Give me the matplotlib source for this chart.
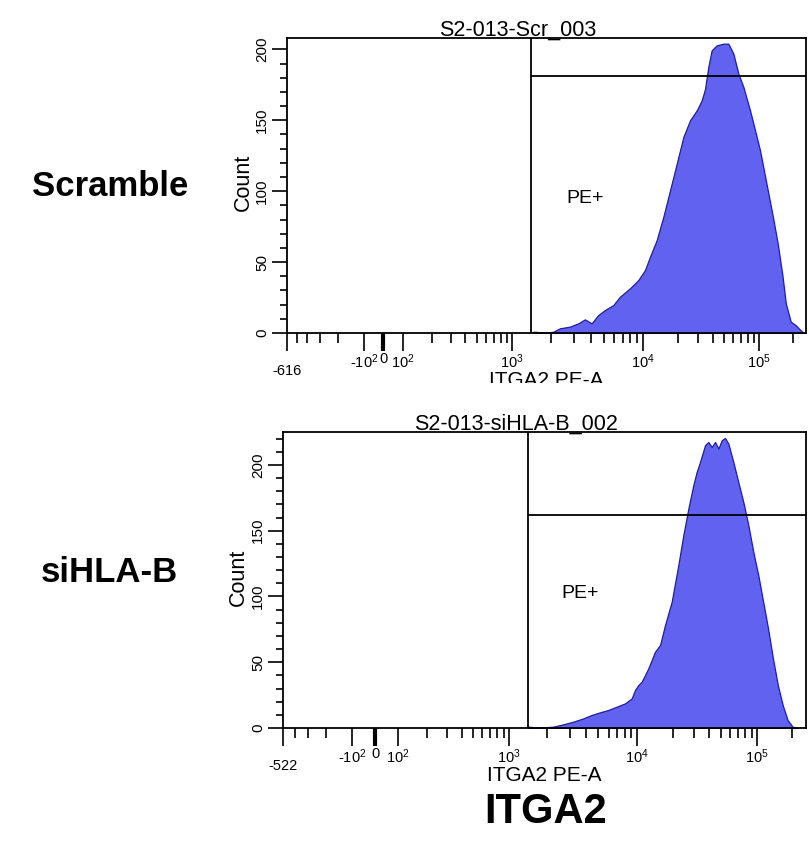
"""
ITGA2 PE-A flow cytometry histograms, scramble vs siHLA-B knockdown,
drawn on a biexponential-looking x axis with the PE+ gate.
"""

import numpy as np
import matplotlib
matplotlib.use('Agg')
import matplotlib.pyplot as plt
from matplotlib.patches import Rectangle

plt.rcParams['font.family'] = ['Liberation Sans', 'DejaVu Sans']
plt.rcParams['mathtext.fontset'] = 'custom'
plt.rcParams['mathtext.rm'] = 'Liberation Sans'
plt.rcParams['mathtext.it'] = 'Liberation Sans:italic'
plt.rcParams['mathtext.bf'] = 'Liberation Sans:bold'

# histogram traces (intensity, count)
scr_x = [1456, 1841, 2066, 2323, 2773, 3209, 3606, 4055, 4560, 5128, 5934,
         6674, 7954, 9205, 10400, 11490, 13120, 14970, 17110, 19540, 22290,
         25450, 29060, 32060, 34230, 36560, 39070, 43150, 49220, 54400,
         60090, 66370, 73310, 83620, 92400, 102000, 116500, 132900, 146800,
         162200, 173300, 191500, 211500, 233500, 249400]
scr_count = [0.9, 0.2, 0.9, 3.3, 4.5, 6.8, 9.6, 6.8, 12.7, 16.2, 19.7,
             25.6, 31.5, 37.3, 44.4, 53.8, 65.5, 81.9, 100.7, 119.5, 138.3,
             150, 157, 164, 172, 187.6, 199.3, 202.8, 204, 204,
             197, 182.9, 173.5, 157, 143, 128.9, 105.4, 82, 63,
             39.7, 20.9, 8, 5.6, 2.1, 0]

sih_x = [1416, 1746, 2220, 2656, 3178, 3802, 4424, 5140, 5970, 6937, 8058,
         9091, 9647, 10250, 10940, 12420, 14130, 15550, 17110, 19450, 22090,
         24320, 26790, 29450, 31410, 33500, 36880, 39280, 41970, 44670,
         47640, 50820, 54090, 57680, 63490, 69820, 76910, 84700, 93110,
         102500, 112900, 124200, 136800, 150600, 165600, 182400, 200900,
         221000]
sih_count = [1.0, 0.3, 1.0, 2.8, 4.8, 7.3, 9.9, 11.9, 13.7, 16.2, 18.7,
             22.5, 28.9, 32.6, 35.2, 45.3, 58, 63, 78.2, 95.9, 123.8,
             146.5, 166.8, 184.5, 194.6, 202.2, 214.9, 217.4, 213.6, 217.4,
             212.4, 218.7, 220.5, 216.2, 202.2, 187, 171.8, 154.1, 133.9,
             116.2, 95.9, 75.7, 52.9, 32.6, 17.5, 6.1, 1.0,
             0]

titles = ['S2-013-Scr_003', 'S2-013-siHLA-B_002']
conditions = ['Scramble', 'siHLA-B']
x_min = [-616, -522]
x_max = 262144
y_max = [208, 225]
gate_x = [1410, 1410]
gate_y = [181, 162]
gate_name = 'PE+'
gate_label_at = [(3600, 95), (3600, 102)]

# display calibration of the biex axis (value -> device units)
scr_cal_vals = [-616, -100, 0, 100, 1e3, 1e4, 1e5, 262144]
scr_cal_pos = [287, 364, 383, 403, 512, 643, 759, 806]
sih_cal_vals = [-522, -100, 0, 100, 1e3, 1e4, 1e5, 262144]
sih_cal_pos = [283, 352, 375, 398, 509, 637, 757, 806]

major_vals = [-100, 0, 100, 1e3, 1e4, 1e5]
major_labels = [r'-$10^2$', '0', r'$10^2$', r'$10^3$', r'$10^4$', r'$10^5$']
minor_vals = ([-500, -400, -300, -200] + list(range(200, 1000, 100))
              + list(range(2000, 10000, 1000))
              + list(range(20000, 100000, 10000)) + [200000])


def biex_scale(vals, pos):
    u = np.arcsinh(np.asarray(vals, float) / 100.0)
    p = np.asarray(pos, float)
    lo = (p[1] - p[0]) / (u[1] - u[0])
    hi = (p[-1] - p[-2]) / (u[-1] - u[-2])

    def forward(x):
        ux = np.arcsinh(np.asarray(x, float) / 100.0)
        out = np.interp(ux, u, p)
        out = np.where(ux < u[0], p[0] + (ux - u[0]) * lo, out)
        out = np.where(ux > u[-1], p[-1] + (ux - u[-1]) * hi, out)
        return out

    def inverse(y):
        y = np.asarray(y, float)
        uy = np.interp(y, p, u)
        uy = np.where(y < p[0], u[0] + (y - p[0]) / lo, uy)
        uy = np.where(y > p[-1], u[-1] + (y - p[-1]) / hi, uy)
        return 100.0 * np.sinh(uy)

    return forward, inverse


def draw_panel(ax, xs, counts, title, xmin, ymax, gx, gy, lab_at,
               cal_vals, cal_pos):
    ax.set_xscale('function', functions=biex_scale(cal_vals, cal_pos))
    ax.set_xlim(xmin, x_max)
    ax.set_ylim(0, ymax)

    ax.fill_between(xs, counts, color='#6262f0', edgecolor='#1c1ca8',
                    linewidth=0.9, zorder=2)

    ax.axvline(gx, color='black', lw=1.3, zorder=3)
    ax.hlines(gy, gx, x_max, color='black', lw=1.3, zorder=3)
    ax.text(lab_at[0], lab_at[1], gate_name, fontsize=14, ha='center',
            va='center')

    for s in ax.spines.values():
        s.set_linewidth(1.3)
        s.set_color('black')

    ax.set_xticks([xmin] + major_vals)
    ax.set_xticklabels([''] + major_labels)
    ax.set_xticks([v for v in minor_vals if v > xmin + 60], minor=True)
    ax.tick_params(axis='x', which='major', length=13, width=1.2, pad=1,
                   labelsize=10.5)
    ax.tick_params(axis='x', which='minor', length=7, width=1.2)
    zero_tick = ax.xaxis.get_major_ticks()[2]
    zero_tick.tick1line.set_markeredgewidth(3)

    ax.annotate(str(xmin), xy=(xmin, 0), xycoords=('data', 'axes fraction'),
                xytext=(0, -27), textcoords='offset points', ha='center',
                va='center', fontsize=10.5)

    ax.set_yticks([0, 50, 100, 150, 200])
    ax.set_yticks(np.arange(0, ymax, 10), minor=True)
    ax.tick_params(axis='y', which='major', length=11, width=1.2, pad=2,
                   labelsize=11, labelrotation=90)
    ax.tick_params(axis='y', which='minor', length=5, width=1.2)
    for lab in ax.get_yticklabels():
        lab.set_va('center')

    ax.text(-0.085, 0.51, 'Count', transform=ax.transAxes, rotation=90,
            ha='center', va='center', fontsize=15.5)
    ax.set_xlabel('ITGA2 PE-A', fontsize=15)
    ax.xaxis.set_label_coords(0.5, -0.128)
    ax.xaxis.label.set_va('top')

    ax.annotate(title, xy=(0.445, 1.0), xycoords='axes fraction',
                xytext=(0, 2), textcoords='offset points', ha='center',
                va='baseline', fontsize=15.5)


fig = plt.figure(figsize=(8.09, 8.5), dpi=100)
W, H = 809.0, 850.0

ax_top = fig.add_axes([287 / W, 1 - 333 / H, 519 / W, 295 / H])
ax_bot = fig.add_axes([283 / W, 1 - 728 / H, 523 / W, 296 / H])

draw_panel(ax_top, scr_x, scr_count, titles[0], x_min[0], y_max[0],
           gate_x[0], gate_y[0], gate_label_at[0], scr_cal_vals, scr_cal_pos)
draw_panel(ax_bot, sih_x, sih_count, titles[1], x_min[1], y_max[1],
           gate_x[1], gate_y[1], gate_label_at[1], sih_cal_vals, sih_cal_pos)

# bottom of the upper axis label is cut off by the lower plot
fig.add_artist(Rectangle((440 / W, 1 - 400 / H), 220 / W, 17 / H,
                         transform=fig.transFigure, facecolor='white',
                         edgecolor='none', zorder=10))

fig.text(110 / W, 1 - 187 / H, conditions[0], fontsize=25,
         fontweight='bold', ha='center', va='center')
fig.text(109 / W, 1 - 573 / H, conditions[1], fontsize=25,
         fontweight='bold', ha='center', va='center')
fig.text(546 / W, 1 - 812 / H, 'ITGA2', fontsize=30, fontweight='bold',
         ha='center', va='center')

fig.savefig('out.png', dpi=100)
